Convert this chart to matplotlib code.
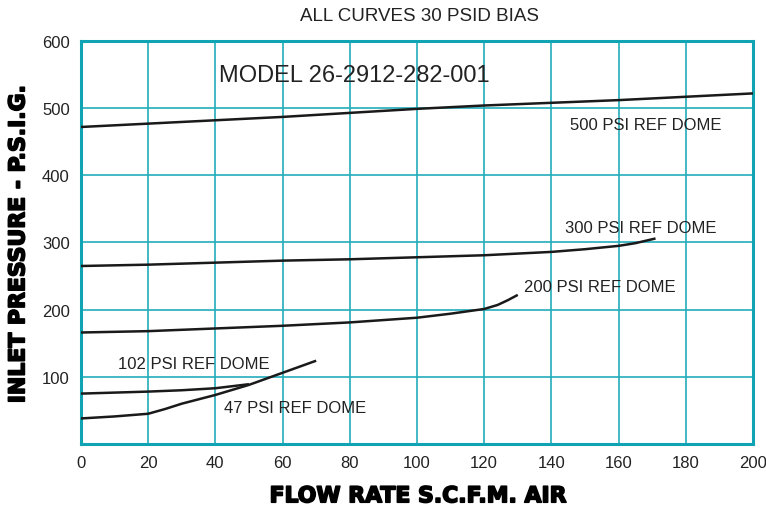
import matplotlib
matplotlib.use("Agg")
import matplotlib.pyplot as plt
import matplotlib.patheffects as pe

plt.rcParams['font.family'] = ['Liberation Sans', 'DejaVu Sans']

# === Data ===
flow_500 = [0, 20, 40, 60, 80, 100, 120, 140, 160, 180, 200]
psi_500 = [472, 477, 482, 487, 493, 499, 504, 508, 512, 517, 522]

flow_300 = [0, 20, 40, 60, 80, 100, 120, 140, 150, 160, 165, 171]
psi_300 = [265, 267, 270, 273, 275, 278, 281, 286, 290, 295, 299, 306]

flow_200 = [0, 20, 40, 60, 80, 100, 110, 120, 124, 127, 130]
psi_200 = [166, 168, 172, 176, 181, 188, 194, 201, 207, 214, 222]

flow_102 = [0, 20, 30, 40, 45, 50]
psi_102 = [75, 78, 80, 83, 86, 89]

flow_47 = [0, 10, 20, 25, 30, 40, 50, 60, 70]
psi_47 = [38, 41, 45, 52, 60, 73, 88, 106, 124]

curves = [(flow_500, psi_500), (flow_300, psi_300), (flow_200, psi_200),
          (flow_102, psi_102), (flow_47, psi_47)]

# label text, x, y (data coords)
labels = [
    ("500 PSI REF DOME", 145.5, 476),
    ("300 PSI REF DOME", 144, 323),
    ("200 PSI REF DOME", 132, 234),
    ("102 PSI REF DOME", 11, 120),
    ("47 PSI REF DOME", 42.5, 55),
]

teal = '#22adbb'

fig = plt.figure(figsize=(7.66, 5.10), dpi=100)
ax = fig.add_axes([0.1057, 0.1275, 0.8773, 0.7901])

for x, y in curves:
    ax.plot(x, y, color='#1a1a1a', linewidth=1.8, solid_capstyle='butt', zorder=3)

for txt, x, y in labels:
    ax.text(x, y, txt, fontsize=12, color='#222222', va='center', ha='left', zorder=4)

ax.text(41, 550, "MODEL 26-2912-282-001", fontsize=17, color='#222222', va='center', ha='left')

ax.set_xlim(0, 200)
ax.set_ylim(0, 600)
ax.set_xticks(range(0, 201, 20))
ax.set_yticks(range(100, 601, 100))
ax.tick_params(length=0, labelsize=12, colors='#222222', pad=8)
ax.grid(True, color=teal, linewidth=1.2)
ax.set_axisbelow(True)
for s in ax.spines.values():
    s.set_color('#0fa3b3')
    s.set_linewidth(2.2)

fig.text(0.548, 0.968, "ALL CURVES 30 PSID BIAS", fontsize=13.5, color='#222222', ha='center', va='center')

stroke = [pe.withStroke(linewidth=1.2, foreground='black')]
fig.text(0.546, 0.025, "FLOW RATE S.C.F.M. AIR", fontsize=15.8, fontweight='bold',
         family='DejaVu Sans', ha='center', va='center', path_effects=stroke)
fig.text(0.024, 0.52, "INLET PRESSURE - P.S.I.G.", fontsize=15.8, fontweight='bold',
         family='DejaVu Sans', ha='center', va='center', rotation=90, path_effects=stroke)

fig.savefig("out.png", dpi=100)
